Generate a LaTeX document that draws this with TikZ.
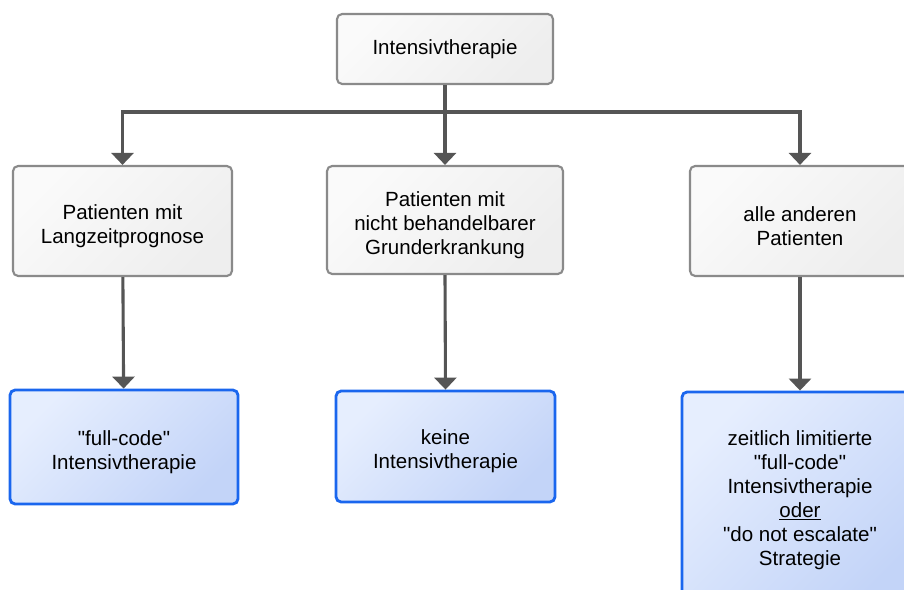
\documentclass[tikz,border=0pt]{standalone}
\usepackage{fontspec}
\setmainfont{Liberation Sans}[Ligatures=TeXOff]
\usetikzlibrary{arrows.meta,positioning}
\definecolor{linegray}{HTML}{555555}
\definecolor{boxgray}{HTML}{8A8A8A}
\definecolor{boxblue}{HTML}{1A66EE}
\definecolor{graylight}{HTML}{FAFAFA}
\definecolor{graydark}{HTML}{EEEEEE}
\definecolor{bluelight}{HTML}{E6EEFE}
\definecolor{bluedark}{HTML}{C3D4F8}
\tikzset{
>={Triangle[width=0.55cm,length=0.3cm]}, % wide flat arrow heads
link/.style={draw=linegray, line width=2.2pt},
txt/.style={align=center, inner sep=0pt, font=\fontsize{14.6}{17.1}\selectfont},
box/.style={txt, rounded corners=0.13cm},
graybox/.style={box, draw=boxgray, line width=1.5pt,
  left color=graylight, right color=graydark, shading angle=45},
bluebox/.style={box, draw=boxblue, line width=2pt,
  left color=bluelight, right color=bluedark, shading angle=45},
low/.style={label={[txt, yshift=-0.125cm]center:#1}}, % text a bit below the middle
}
\begin{document}
\begin{tikzpicture}[x=0.025cm, y=-0.025cm]
        \useasboundingbox (0,0) rectangle (904,590);
        \clip (0,0) rectangle (904,590);
        % top
        \node[graybox, minimum width=5.4cm, minimum height=1.75cm] at (445,49) (ther) {Intensivtherapie};
        % second row
        \node[graybox, low={Patienten mit\\Langzeitprognose}, minimum width=5.475cm, minimum height=2.75cm] at (122.5,221) (lang) {};
        \node[graybox, low={Patienten mit\\nicht behandelbarer\\Grunderkrankung}, minimum width=5.9cm, minimum height=2.7cm] at (445,220) (grund) {};
        \node[graybox, low={alle anderen\\Patienten}, minimum width=5.5cm, minimum height=2.75cm] at (800,221) (andere) {};
        % third row
        \node[bluebox, low={"full-code"\\Intensivtherapie}, minimum width=5.7cm, minimum height=2.85cm] at (124,447) (full) {};
        \node[bluebox, low={keine\\Intensivtherapie}, minimum width=5.475cm, minimum height=2.775cm] at (445.5,446.5) (keine) {};
        \node[bluebox, minimum width=5.9cm, minimum height=5.4cm] at (800,500) (limit) {zeitlich limitierte\\"full-code"\\Intensivtherapie\\\underline{oder}\\"do not escalate"\\Strategie};
        \coordinate (split) at (445,112);
        \draw[link]
        (ther) -- (split)
        ;
        \draw[link, ->] (split) -| (lang);
        \draw[link, ->] (split) -- (grund);
        \draw[link, ->] (split) -| (andere);
        \draw[link, ->] (lang) -- (full);
        \draw[link, ->] (grund.south) -- (keine.north);
        \draw[link, ->] (andere) -- (limit);
    \end{tikzpicture}
\end{document}
